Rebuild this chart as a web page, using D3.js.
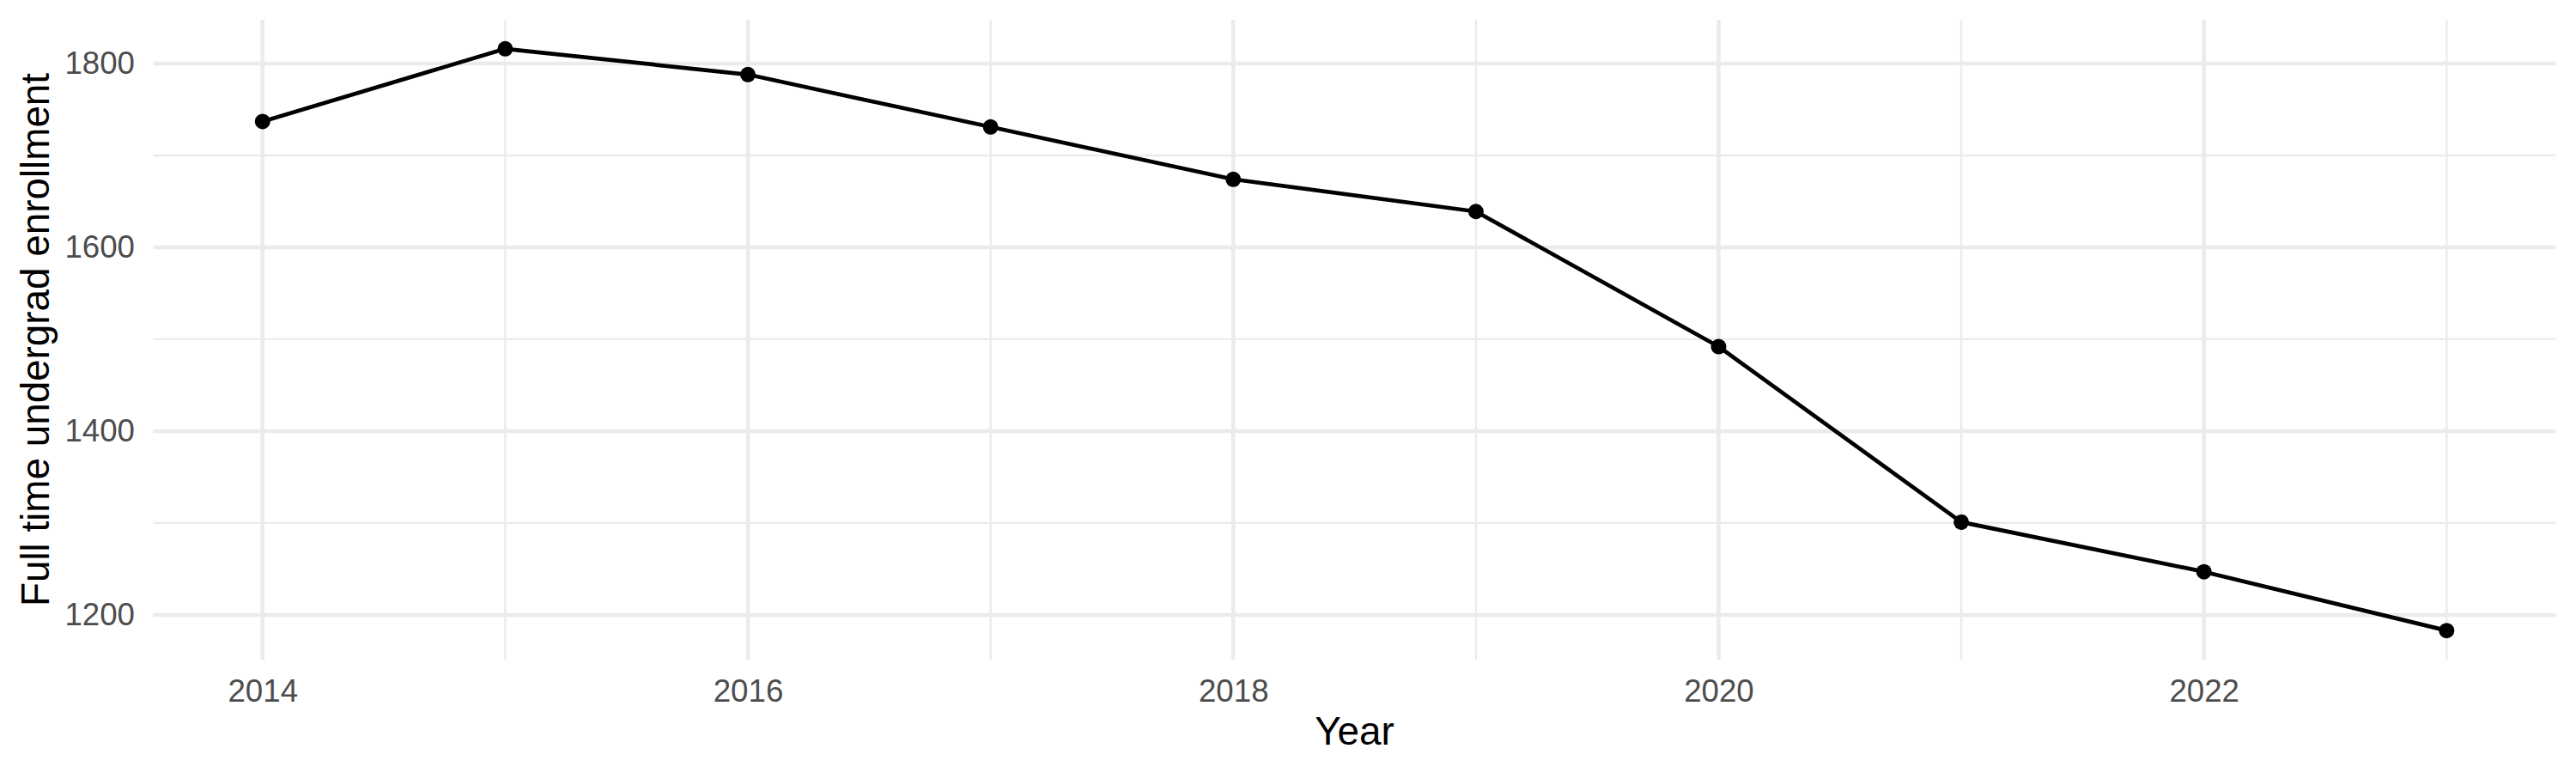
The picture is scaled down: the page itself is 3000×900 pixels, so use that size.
<!DOCTYPE html>
<html>
<head>
<meta charset="utf-8">
<script src="https://cdn.jsdelivr.net/npm/d3@7"></script>
<style>
  body { margin: 0; background: #fff; }
  text { font-family: "Liberation Sans", Arial, sans-serif; }
</style>
</head>
<body>
<div id="chart"></div>
<script>
// data
const years = [2014, 2015, 2016, 2017, 2018, 2019, 2020, 2021, 2022, 2023]
const enrollment = [1737, 1816, 1788, 1731, 1674, 1639, 1492, 1301, 1247, 1183]
const xMajor = [2014, 2016, 2018, 2020, 2022]
const xMinor = [2015, 2017, 2019, 2021, 2023]
const yMajor = [1200, 1400, 1600, 1800]
const yMinor = [1300, 1500, 1700]

const width = 3000
const height = 900
const margin = { top: 23, right: 23.5, bottom: 132, left: 178.6 }

const svg = d3.select("#chart")
  .append("svg")
  .attr("width", width)
  .attr("height", height)

const data = years.map((y, i) => ({ year: y, value: enrollment[i] }))

// ggplot style 5% expansion
const xExt = d3.extent(years)
const yExt = d3.extent(enrollment)
const xPad = (xExt[1] - xExt[0]) * 0.05
const yPad = (yExt[1] - yExt[0]) * 0.05

const x = d3.scaleLinear()
  .domain([xExt[0] - xPad, xExt[1] + xPad])
  .range([margin.left, width - margin.right])

const y = d3.scaleLinear()
  .domain([yExt[0] - yPad, yExt[1] + yPad])
  .range([height - margin.bottom, margin.top])

const grid = svg.append("g")

//minor grid
grid.selectAll(".ymin")
  .data(yMinor)
  .join("line")
  .attr("x1", x.range()[0])
  .attr("x2", x.range()[1])
  .attr("y1", d => y(d))
  .attr("y2", d => y(d))
  .attr("stroke", "#EBEBEB")
  .attr("stroke-width", 2.3)

grid.selectAll(".xmin")
  .data(xMinor)
  .join("line")
  .attr("x1", d => x(d))
  .attr("x2", d => x(d))
  .attr("y1", y.range()[0])
  .attr("y2", y.range()[1])
  .attr("stroke", "#EBEBEB")
  .attr("stroke-width", 2.3)

//major grid
grid.selectAll(".ymaj")
  .data(yMajor)
  .join("line")
  .attr("x1", x.range()[0])
  .attr("x2", x.range()[1])
  .attr("y1", d => y(d))
  .attr("y2", d => y(d))
  .attr("stroke", "#EBEBEB")
  .attr("stroke-width", 4.5)

grid.selectAll(".xmaj")
  .data(xMajor)
  .join("line")
  .attr("x1", d => x(d))
  .attr("x2", d => x(d))
  .attr("y1", y.range()[0])
  .attr("y2", y.range()[1])
  .attr("stroke", "#EBEBEB")
  .attr("stroke-width", 4.5)

// axes (labels only)
const xAxis = svg.append("g")
  .attr("transform", `translate(0,${height - margin.bottom})`)
  .call(d3.axisBottom(x).tickValues(xMajor).tickFormat(d3.format("d")).tickSize(0).tickPadding(23))
xAxis.select(".domain").remove()
xAxis.selectAll("text")
  .style("font-size", "36.7px")
  .attr("fill", "#4D4D4D")

const yAxis = svg.append("g")
  .attr("transform", `translate(${margin.left},0)`)
  .call(d3.axisLeft(y).tickValues(yMajor).tickFormat(d3.format("d")).tickSize(0).tickPadding(21.6))
yAxis.select(".domain").remove()
yAxis.selectAll("text")
  .style("font-size", "36.7px")
  .attr("fill", "#4D4D4D")

// line + points
const line = d3.line()
  .x(d => x(d.year))
  .y(d => y(d.value))

svg.append("path")
  .datum(data)
  .attr("d", line)
  .attr("fill", "none")
  .attr("stroke", "#000")
  .attr("stroke-width", 4.7)
  .attr("stroke-linejoin", "round")

svg.selectAll(".pt")
  .data(data)
  .join("circle")
  .attr("cx", d => x(d.year))
  .attr("cy", d => y(d.value))
  .attr("r", 9)
  .attr("fill", "#000")

// titles
svg.append("text")
  .attr("x", (x.range()[0] + x.range()[1]) / 2)
  .attr("y", 867)
  .attr("text-anchor", "middle")
  .style("font-size", "45.8px")
  .attr("fill", "#000")
  .text("Year")

svg.append("text")
  .attr("transform", `translate(57,${(y.range()[0] + y.range()[1]) / 2}) rotate(-90)`)
  .attr("text-anchor", "middle")
  .style("font-size", "45.8px")
  .attr("fill", "#000")
  .text("Full time undergrad enrollment")
</script>
</body>
</html>
